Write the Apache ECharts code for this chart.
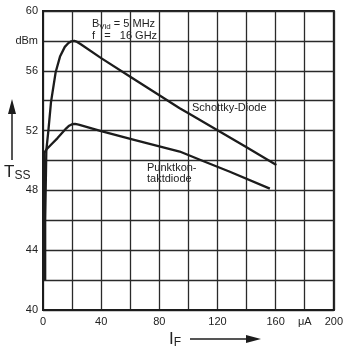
<!DOCTYPE html>
<html>
<head>
<meta charset="utf-8">
<script src="https://cdn.jsdelivr.net/npm/echarts@6/dist/echarts.min.js"></script>
<style>
html,body{margin:0;padding:0;background:#fff;}
#c{width:346px;height:355px;}
</style>
</head>
<body>
<div id="c"></div>
<script>
// Data
const schottkyX = [1.5, 1.5, 2.3, 3.7, 5.5, 8.7, 11.7, 15, 17.5, 19.5, 21.5, 23.5, 26, 40, 60, 80, 94, 100, 120, 140, 160.5];
const schottkyY = [42, 46, 50.7, 52, 53.9, 55.9, 56.95, 57.6, 57.86, 57.97, 58, 57.93, 57.78, 56.85, 55.6, 54.37, 53.5, 53.16, 52.02, 50.88, 49.7];
const punktX = [0.7, 0.7, 2.5, 6, 10, 13.7, 16, 18, 20, 22, 24.5, 40, 62, 80, 94, 110, 128.5, 156];
const punktY = [42, 50.5, 50.75, 51.1, 51.5, 51.9, 52.15, 52.33, 52.43, 52.45, 52.4, 51.97, 51.4, 50.95, 50.6, 49.97, 49.25, 48.12];
const xTickLabels = {0: '0', 40: '40', 80: '80', 120: '120', 160: '160', 180: 'μA', 200: '200'};
const yTickLabels = {40: '40', 44: '44', 48: '48', 52: '52', 56: '56', 58: 'dBm', 60: '60'};
const seriesNames = ['Schottky-Diode', 'Punktkontaktdiode'];

const pair = (xs, ys) => xs.map((x, i) => [x, ys[i]]);
const ink = '#1c1c1c';
const font = 'Liberation Sans, Arial, sans-serif';

const chart = echarts.init(document.getElementById('c'), null, {renderer: 'canvas'});
chart.setOption({
  animation: false,
  backgroundColor: '#fff',
  grid: {left: 43, top: 11, width: 291, height: 299, show: true, borderColor: ink, borderWidth: 2, backgroundColor: 'transparent'},
  xAxis: {
    type: 'value', min: 0, max: 200, interval: 20,
    axisLine: {show: true, lineStyle: {color: ink, width: 2}},
    axisTick: {show: false},
    splitLine: {show: true, lineStyle: {color: '#2a2a2a', width: 1.3}},
    axisLabel: {
      color: '#222', fontFamily: font, fontSize: 11, margin: 6,
      formatter: v => xTickLabels[v] !== undefined ? xTickLabels[v] : ''
    }
  },
  yAxis: {
    type: 'value', min: 40, max: 60, interval: 2,
    axisLine: {show: true, lineStyle: {color: ink, width: 2}},
    axisTick: {show: false},
    splitLine: {show: true, lineStyle: {color: '#2a2a2a', width: 1.3}},
    axisLabel: {
      color: '#222', fontFamily: font, fontSize: 11, margin: 5,
      formatter: v => yTickLabels[v] !== undefined ? yTickLabels[v] : ''
    }
  },
  series: [
    {name: seriesNames[0], type: 'line', data: pair(schottkyX, schottkyY), symbol: 'none', smooth: false,
     lineStyle: {color: ink, width: 2.3, join: 'round'}},
    {name: seriesNames[1], type: 'line', data: pair(punktX, punktY), symbol: 'none', smooth: false,
     lineStyle: {color: ink, width: 2.3, join: 'round'}}
  ],
  graphic: [
    {type: 'text', left: 92, top: 18, style: {
      rich: {
        a: {fontSize: 11, fontFamily: font, fill: '#222'},
        s: {fontSize: 8, fontFamily: font, fill: '#222', padding: [6, 0, 0, 0]}
      },
      text: '{a|B}{s|Vid}{a| = 5 MHz}'}},
    {type: 'text', left: 92, top: 30, style: {text: 'f   =   16 GHz', fontSize: 11, fontFamily: font, fill: '#222'}},
    {type: 'text', left: 192, top: 102, style: {text: 'Schottky-Diode', fontSize: 11, fontFamily: font, fill: '#222'}},
    {type: 'text', left: 147, top: 162, style: {text: 'Punktkon-\ntaktdiode', fontSize: 11, lineHeight: 11, fontFamily: font, fill: '#222'}},
    // Y axis name with arrow
    {type: 'line', shape: {x1: 12, y1: 160, x2: 12, y2: 112}, style: {stroke: ink, lineWidth: 1.5}},
    {type: 'polygon', shape: {points: [[8, 114], [16, 114], [12, 99]]}, style: {fill: ink}},
    {type: 'text', left: 4, top: 164, style: {
      rich: {
        a: {fontSize: 17, fontFamily: font, fill: '#222'},
        s: {fontSize: 12, fontFamily: font, fill: '#222', padding: [7, 0, 0, 0]}
      },
      text: '{a|T}{s|SS}'}},
    // X axis name with arrow
    {type: 'text', left: 169, top: 331, style: {
      rich: {
        a: {fontSize: 17, fontFamily: font, fill: '#222'},
        s: {fontSize: 12, fontFamily: font, fill: '#222', padding: [7, 0, 0, 0]}
      },
      text: '{a|I}{s|F}'}},
    {type: 'line', shape: {x1: 190, y1: 339, x2: 248, y2: 339}, style: {stroke: ink, lineWidth: 1.5}},
    {type: 'polygon', shape: {points: [[246, 335], [246, 343], [261, 339]]}, style: {fill: ink}}
  ]
});
</script>
</body>
</html>
